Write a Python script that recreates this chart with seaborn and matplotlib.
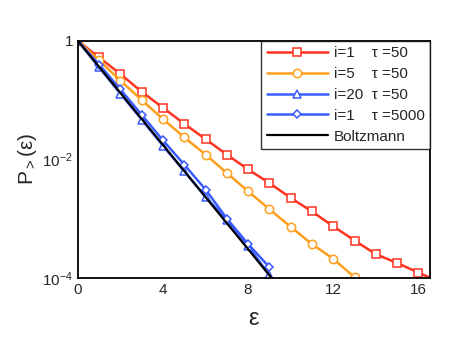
import numpy as np
import pandas as pd
import matplotlib
matplotlib.use("Agg")
import matplotlib.pyplot as plt
import matplotlib.ticker as mticker
import seaborn as sns

sns.set_style("white")
plt.rcParams["font.family"] = ["Liberation Sans", "DejaVu Sans"]
plt.rcParams["mathtext.fontset"] = "custom"
plt.rcParams["mathtext.rm"] = "Liberation Sans"
plt.rcParams["mathtext.it"] = "Liberation Sans"

# energies (integer grid) and log10 of P>(eps)
eps_i1 = list(range(0, 18))
dec_i1 = [0, 0.28, 0.56, 0.86, 1.13, 1.40, 1.66, 1.92, 2.17, 2.40,
          2.65, 2.88, 3.13, 3.37, 3.60, 3.75, 3.91, 4.07]

eps_i5 = list(range(0, 14))
dec_i5 = [0, 0.33, 0.67, 1.00, 1.32, 1.63, 1.92, 2.23, 2.54, 2.84,
          3.14, 3.43, 3.68, 3.99]

eps_i20 = list(range(0, 10))
dec_i20 = [0, 0.45, 0.89, 1.33, 1.77, 2.20, 2.63, 3.03, 3.46, 3.96]

eps_t5000 = list(range(0, 10))
dec_t5000 = [0, 0.40, 0.82, 1.25, 1.68, 2.09, 2.51, 3.00, 3.43, 3.82]

eps_boltz = [0, 9.1]
p_boltz = [1.0, 1e-4]

series = [
    ("i=1    τ =50", eps_i1, dec_i1, "#ff3322", "s", 5.5),
    ("i=5    τ =50", eps_i5, dec_i5, "#ff9e1c", "o", 6),
    ("i=20  τ =50", eps_i20, dec_i20, "#3a5cff", "^", 6),
    ("i=1    τ =5000", eps_t5000, dec_t5000, "#3a5cff", "D", 4.5),
]

fig = plt.figure(figsize=(4.58, 3.46), dpi=100)
ax = fig.add_axes([0.170, 0.197, 0.769, 0.685])

for label, xs, ds, color, mk, ms in series:
    df = pd.DataFrame({"eps": xs, "P": 10.0 ** (-np.array(ds))})
    sns.lineplot(data=df, x="eps", y="P", ax=ax, color=color, lw=1.8,
                 marker=mk, markersize=ms, markerfacecolor="white",
                 markeredgecolor=color, markeredgewidth=1.1, label=label)

sns.lineplot(x=eps_boltz, y=p_boltz, ax=ax, color="black", lw=1.6,
             label="Boltzmann")

ax.set_yscale("log")
ax.set_xlim(0, 16.55)
ax.set_ylim(1e-4, 1)

ax.xaxis.set_major_locator(mticker.MultipleLocator(4))
ax.xaxis.set_minor_locator(mticker.MultipleLocator(1))
ax.yaxis.set_major_locator(mticker.LogLocator(base=10, numticks=10))
ax.yaxis.set_minor_locator(mticker.LogLocator(base=10, subs=np.arange(2, 10), numticks=10))


def yfmt(v, pos):
    e = int(round(np.log10(v)))
    if e == 0:
        return "1"
    if e % 2 == 0:
        return r"10$^{%d}$" % e
    return ""


ax.yaxis.set_major_formatter(mticker.FuncFormatter(yfmt))
ax.yaxis.set_minor_formatter(mticker.NullFormatter())

ax.tick_params(which="both", direction="in", top=False, right=False,
               labelsize=11, width=1.2)
ax.tick_params(which="major", length=6)
ax.tick_params(which="minor", length=3)

for s in ax.spines.values():
    s.set_linewidth(1.3)
    s.set_color("black")

ax.set_xlabel("ε", fontsize=17, labelpad=8)
ax.set_ylabel(r"P$_{>}$(ε)", fontsize=15, labelpad=2)

leg = ax.legend(loc="upper right", fontsize=11, handlelength=4.0,
                numpoints=1, frameon=True, fancybox=False, borderaxespad=0,
                labelspacing=0.45, handletextpad=0.4, borderpad=0.35)
leg.get_frame().set_edgecolor("black")
leg.get_frame().set_linewidth(1.0)

fig.savefig("out.png", dpi=100)
